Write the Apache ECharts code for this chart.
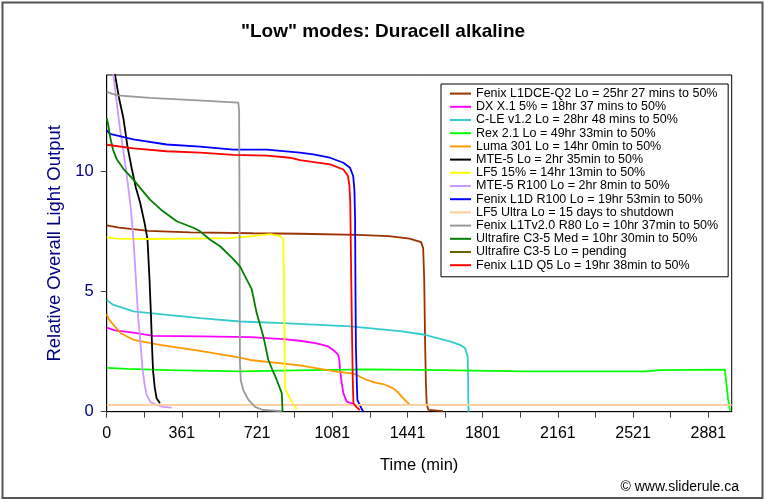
<!DOCTYPE html>
<html>
<head>
<meta charset="utf-8">
<script src="https://cdn.jsdelivr.net/npm/echarts@6/dist/echarts.min.js"></script>
<style>html,body{margin:0;padding:0;background:#fff;}#c{width:766px;height:502px;}</style>
</head>
<body>
<div id="c"></div>
<script>
// ---- Data (time in minutes, relative light output) ----
const seriesNames = [
  "Fenix L1DCE-Q2 Lo = 25hr 27 mins to 50%",
  "DX X.1 5% = 18hr 37 mins to 50%",
  "C-LE v1.2 Lo = 28hr 48 mins to 50%",
  "Rex 2.1 Lo = 49hr 33min to 50%",
  "Luma 301 Lo = 14hr 0min to 50%",
  "MTE-5 Lo = 2hr 35min to 50%",
  "LF5 15% = 14hr 13min to 50%",
  "MTE-5 R100 Lo = 2hr 8min to 50%",
  "Fenix L1D R100 Lo = 19hr 53min to 50%",
  "LF5 Ultra Lo = 15 days to shutdown",
  "Fenix L1Tv2.0 R80 Lo = 10hr 37min to 50%",
  "Ultrafire C3-5 Med = 10hr 30min to 50%",
  "Ultrafire C3-5 Lo = pending",
  "Fenix L1D Q5 Lo = 19hr 38min to 50%"
];
const seriesColors = ["#993300","#FF00FF","#33CCCC","#00FF00","#FF9900","#000000","#FFFF00",
  "#CC99FF","#0000FF","#FFCC99","#999999","#008000","#666600","#FF0000"];

const fenixL1DCE = [[0,7.75],[60,7.65],[200,7.52],[400,7.46],[700,7.42],[925,7.4],[1200,7.35],[1350,7.3],[1450,7.2],[1505,7.05],[1515,6.8],[1520,5.5],[1524,3],[1528,1.2],[1532,0.3],[1540,0.08],[1610,0.02]];
const dxX1 = [[0,3.5],[40,3.38],[128,3.29],[223,3.15],[447,3.13],[686,3.1],[845,3.02],[925,2.95],[1005,2.84],[1060,2.72],[1093,2.5],[1109,2.36],[1114,2.1],[1117,1.74],[1125,1.2],[1133,0.77],[1149,0.42],[1181,0.32]];
const cLE = [[0,4.65],[30,4.45],[128,4.17],[255,4.06],[447,3.89],[638,3.75],[845,3.68],[1165,3.55],[1404,3.35],[1524,3.2],[1564,3.1],[1643,2.92],[1691,2.78],[1715,2.65],[1723,2.57],[1728,2.3],[1730,1.5],[1731,0.5],[1732,0]];
const rex21 = [[0,1.82],[100,1.78],[300,1.73],[638,1.68],[900,1.72],[1245,1.76],[1600,1.73],[2000,1.68],[2585,1.68],[2650,1.73],[2960,1.75],[2966,1.2],[2975,0.5],[2984,0.05]];
const luma301 = [[0,4.06],[10,3.85],[32,3.61],[70,3.25],[128,2.99],[255,2.78],[447,2.53],[638,2.25],[686,2.15],[925,1.93],[1085,1.69],[1189,1.57],[1220,1.42],[1245,1.32],[1290,1.2],[1324,1.15],[1372,0.97],[1395,0.8],[1412,0.63],[1435,0.42],[1452,0.28]];
const mte5 = [[0,16.3],[20,15],[40,14],[60,13],[80,12.2],[100,11],[120,10.1],[140,9.3],[160,8.7],[180,7.9],[195,7.2],[205,5.5],[212,4],[218,2.5],[222,1.7],[230,1],[239,0.56],[255,0.35]];
const lf515 = [[0,7.25],[50,7.2],[200,7.18],[400,7.2],[590,7.22],[700,7.3],[782,7.38],[830,7.3],[845,7.2],[848,6],[850,4],[852,2],[854,0.97],[880,0.5],[910,0.1]];
const mte5R100 = [[0,16],[15,15],[32,14],[60,12],[92,10.1],[115,8.5],[128,7.15],[140,5.5],[150,4],[162,2.8],[172,1.74],[182,1.1],[191,0.7],[210,0.4],[239,0.28],[270,0.2],[311,0.17]];
const fenixL1DR100 = [[0,11.7],[16,11.55],[128,11.32],[287,11.11],[447,11.02],[606,10.9],[766,10.9],[925,10.77],[989,10.7],[1069,10.56],[1133,10.35],[1165,10.14],[1180,9.8],[1186,9.2],[1189,8],[1191,5],[1193,2.7],[1198,1],[1200,0.49],[1210,0.3],[1228,0]];
const lf5Ultra = [[0,0.28],[500,0.28],[1000,0.28],[1500,0.28],[2000,0.28],[2500,0.28],[2992,0.28]];
const fenixL1Tv2 = [[0,13.3],[50,13.15],[207,13.05],[479,12.92],[630,12.85],[634,12.5],[636,8],[637,4],[638,2],[642,1.3],[654,0.9],[678,0.5],[710,0.2],[748,0.07],[838,0.02]];
const ultrafireMed = [[0,12.2],[8,11.9],[16,11.45],[30,10.9],[48,10.5],[80,10.1],[128,9.65],[170,9.2],[207,8.82],[260,8.4],[335,7.92],[415,7.65],[447,7.5],[495,7.15],[543,6.88],[600,6.4],[638,6.04],[670,5.5],[694,5.1],[718,4.1],[750,3.13],[774,2.15],[800,1.6],[814,1.32],[838,0.77],[842,0]];
const ultrafireLo = [];
const fenixL1DQ5 = [[0,11.1],[128,10.95],[287,10.83],[447,10.77],[606,10.68],[766,10.65],[877,10.56],[925,10.46],[1069,10.28],[1133,10.07],[1155,9.8],[1162,9.4],[1166,8.7],[1170,6],[1173,4],[1178,1.32],[1181,0.35],[1195,0.2],[1212,0.07]];

const seriesData = [fenixL1DCE, dxX1, cLE, rex21, luma301, mte5, lf515, mte5R100, fenixL1DR100, lf5Ultra, fenixL1Tv2, ultrafireMed, ultrafireLo, fenixL1DQ5];

const xMax = 2992, xInterval = 180;
const yMax = 14, yInterval = 5;
const yTicks = [0, 5, 10];

const FONT = "'Liberation Sans', Arial, sans-serif";
const chart = echarts.init(document.getElementById('c'), null, {renderer: 'canvas'});

const series = seriesNames.map((n, i) => ({
  name: n,
  type: 'line',
  data: seriesData[i],
  showSymbol: false,
  symbol: 'none',
  clip: true,
  color: seriesColors[i],
  itemStyle: {color: seriesColors[i]},
  lineStyle: {color: seriesColors[i], width: 1.8},
  animation: false
}));

chart.setOption({
  animation: false,
  backgroundColor: '#fff',
  title: {
    text: '"Low" modes: Duracell alkaline',
    left: 'center', top: 22, padding: 0,
    textStyle: {fontFamily: FONT, fontSize: 19, fontWeight: 'bold', color: '#000'}
  },
  grid: {left: 106.7, right: 34.3, top: 75, bottom: 90.3, show: true, borderColor: '#000', borderWidth: 1, backgroundColor: '#fff'},
  legend: {
    orient: 'vertical', left: 441, top: 84,
    padding: [3, 10, 5, 9],
    itemGap: 0, itemWidth: 21, itemHeight: 2, icon: 'rect',
    backgroundColor: '#fff', borderColor: '#000', borderWidth: 1,
    textStyle: {fontFamily: FONT, fontSize: 12.5, color: '#000', lineHeight: 13.2},
    data: seriesNames
  },
  xAxis: {
    type: 'value', min: 0, max: xMax, interval: xInterval,
    name: 'Time (min)', nameLocation: 'middle', nameGap: 45,
    nameTextStyle: {fontFamily: FONT, fontSize: 16.5, color: '#000'},
    axisLine: {show: true, lineStyle: {color: '#000', width: 1}},
    axisTick: {show: true, length: 6, lineStyle: {color: '#444'}},
    splitLine: {show: false},
    axisLabel: {
      fontFamily: FONT, fontSize: 16, color: '#000', margin: 14, showMaxLabel: false,
      formatter: v => (v % 360 === 0 ? (v === 0 ? '0' : String(v + 1)) : '')
    }
  },
  yAxis: {
    type: 'value', min: 0, max: yMax, interval: yInterval,
    name: 'Relative Overall Light Output', nameLocation: 'middle', nameGap: 42,
    nameTextStyle: {fontFamily: FONT, fontSize: 18.5, color: '#000080'},
    axisLine: {show: true, lineStyle: {color: '#000', width: 1}},
    axisTick: {show: true, length: 6, customValues: yTicks, lineStyle: {color: '#444'}},
    splitLine: {show: false},
    axisLabel: {
      fontFamily: FONT, fontSize: 16.5, color: '#000080', margin: 13,
      customValues: yTicks,
      formatter: v => (v % 5 === 0 ? String(v) : '')
    }
  },
  graphic: [
    {type: 'rect', z: 100, silent: true, shape: {x: 2.5, y: 2.5, width: 760, height: 495.5},
     style: {fill: 'none', stroke: '#555', lineWidth: 2}},
    {type: 'text', right: 27, top: 480, z: 100,
     style: {text: '© www.sliderule.ca', fontFamily: FONT, fontSize: 14, fill: '#000'}}
  ],
  series: series
});
</script>
</body>
</html>
